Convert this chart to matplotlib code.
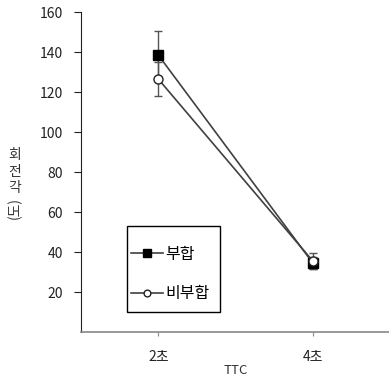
import matplotlib
matplotlib.use('Agg')
import matplotlib.pyplot as plt
from matplotlib.patches import Rectangle

plt.rcParams['font.family'] = ['Noto Sans CJK KR', 'DejaVu Sans']

# data
categories = ['2초', '4초']
match_mean = [138.5, 34.5]
match_err = [12.0, 3.0]
mismatch_mean = [126.5, 35.5]
mismatch_err = [8.5, 4.0]

x = [1, 2]

fig = plt.figure(figsize=(3.89, 3.82), dpi=100)
ax = fig.add_axes([81 / 389, 1 - 332 / 382, 309 / 389, 320 / 382])

# error bars (not in legend)
ax.errorbar(x, match_mean, yerr=match_err, fmt='none', capsize=3,
            ecolor='#555555', elinewidth=1, zorder=2)
ax.errorbar(x, mismatch_mean, yerr=mismatch_err, fmt='none', capsize=3,
            ecolor='#555555', elinewidth=1, zorder=2)

# lines with markers
ax.plot(x, match_mean, color='#404040', lw=1.2, marker='s', ms=7,
        mfc='black', mec='black', label='부합', zorder=3)
ax.plot(x, mismatch_mean, color='#404040', lw=1.2, marker='o', ms=6.5,
        mfc='white', mec='#222222', label='비부합', zorder=4)

ax.set_xlim(0.5, 2.5)
ax.set_ylim(0, 160)
ax.set_yticks([20, 40, 60, 80, 100, 120, 140, 160])
ax.set_xticks(x)
ax.set_xticklabels(categories)
ax.tick_params(axis='y', direction='out', length=5, labelsize=10, pad=8, colors='#222222')
ax.tick_params(axis='x', direction='out', length=3, labelsize=10, pad=10, colors='#888888',
               labelcolor='#222222')

ax.spines['top'].set_visible(False)
ax.spines['right'].set_visible(False)
ax.spines['bottom'].set_color('#888888')
ax.spines['bottom'].set_linewidth(1.2)
ax.spines['left'].set_color('#222222')

ax.set_xlabel('TTC', fontsize=9.5, labelpad=0, color='#333333')

# y label: stacked upright chars + rotated (도)
for ch, yp in zip(['회', '전', '각'], [155, 172, 188]):
    fig.text(15 / 389, 1 - yp / 382, ch, ha='center', va='center',
             fontsize=10, color='#333333')
fig.text(15 / 389, 1 - 208 / 382, '(도)', ha='center', va='center',
         fontsize=10, rotation=90, color='#333333')

# legend box drawn separately so the padding matches
ax.add_patch(Rectangle((46 / 309, 20 / 320), 93 / 309, 86 / 320, transform=ax.transAxes,
                       fill=False, edgecolor='black', lw=1.0, zorder=5))
leg = ax.legend(loc='center left', bbox_to_anchor=(50 / 309, 58 / 320), fontsize=11.5,
                frameon=False, handlelength=2.0, labelspacing=1.4, borderpad=0,
                borderaxespad=0, handletextpad=0.15, markerscale=0.75)

plt.savefig('out.png', dpi=100)
